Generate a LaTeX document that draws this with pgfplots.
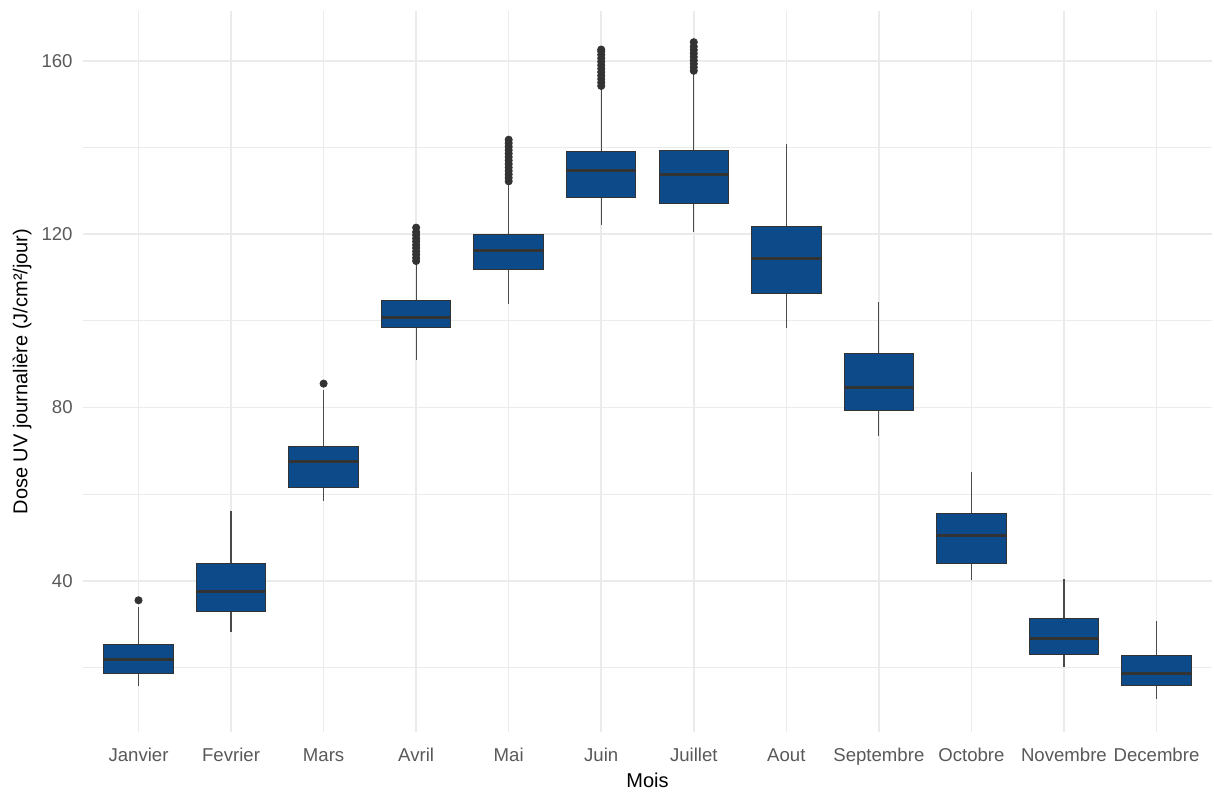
\documentclass[border=0pt]{standalone}
\usepackage{fontspec}
\setmainfont{Liberation Sans}
\usepackage{pgfplots}
\usepgfplotslibrary{statistics}
\pgfplotsset{compat=1.18}
\definecolor{boxfill}{HTML}{0D4A8A}
\definecolor{dk}{HTML}{333333}
\definecolor{wk}{HTML}{4A4A4A}
\definecolor{gridc}{HTML}{EBEBEB}
\pgfplotsset{
  mybox/.style={
    boxplot/draw direction=y,
    boxplot/box extend=0.75,
    boxplot/whisker extend=0,
    boxplot/every box/.style={fill=boxfill, draw=dk, line width=0.5pt},
    boxplot/every median/.style={draw=dk, line width=1.5pt},
    boxplot/every whisker/.style={draw=wk, line width=0.6pt},
    mark=*, mark size=1.8pt, mark options={fill=dk, draw=dk},
    draw=dk, solid
  }
}
\begin{document}
\begin{tikzpicture}[x=1pt,y=1pt]
\useasboundingbox (0,0) rectangle (607,396.5);
\begin{axis}[
  at={(41.5pt,30.5pt)}, anchor=south west,
  scale only axis, width=564.5pt, height=360.5pt,
  xmin=0.4, xmax=12.6, ymin=5.1, ymax=171.5,
  boxplot/draw direction=y,
  xtick={1,...,12},
  xticklabels={Janvier,Fevrier,Mars,Avril,Mai,Juin,Juillet,Aout,Septembre,Octobre,Novembre,Decembre},
  ytick={40,80,120,160},
  minor ytick={20,60,100,140},
  grid=both,
  major grid style={gridc, line width=0.75pt},
  minor grid style={gridc, line width=0.5pt},
  axis line style={draw=none},
  major tick length=0pt, minor tick length=0pt,
  /pgf/number format/assume math mode=true,
  ticklabel style={font=\fontsize{9.3}{11}\selectfont, text=black!65, inner sep=0pt},
  xticklabel style={anchor=base, yshift=-14.5pt},
  yticklabel style={anchor=east, xshift=-5pt},
  xlabel={Mois},
  ylabel={Dose UV journalière (J/cm²/jour)},
  label style={font=\fontsize{10.5}{12}\selectfont, text=black},
  every axis x label/.style={at={(axis description cs:0.5,0)}, anchor=center, yshift=-24pt},
  every axis y label/.style={at={(axis description cs:0,0.5)}, anchor=center, rotate=90, yshift=30.5pt},
]
\addplot[mybox, boxplot prepared={draw position=1, lower whisker=15.8, lower quartile=18.7, median=21.9, upper quartile=25.4, upper whisker=34}] coordinates {(0,35.5)};
\addplot[mybox, boxplot prepared={draw position=2, lower whisker=28.2, lower quartile=33.0, median=37.5, upper quartile=43.9, upper whisker=56.0}] coordinates {};
\addplot[mybox, boxplot prepared={draw position=3, lower whisker=58.5, lower quartile=61.5, median=67.5, upper quartile=70.9, upper whisker=84}] coordinates {(0,85.5)};
\addplot[mybox, boxplot prepared={draw position=4, lower whisker=91, lower quartile=98.4, median=100.7, upper quartile=104.6, upper whisker=113}] coordinates {(0,113.8) (0,114.5) (0,115.3) (0,116) (0,116.8) (0,117.5) (0,118.3) (0,119) (0,119.8) (0,120.5) (0,121.5)};
\addplot[mybox, boxplot prepared={draw position=5, lower whisker=103.9, lower quartile=111.9, median=116.2, upper quartile=120.0, upper whisker=131.5}] coordinates {(0,132.2) (0,133) (0,133.8) (0,134.6) (0,135.4) (0,136.2) (0,137) (0,137.8) (0,138.6) (0,139.4) (0,140.2) (0,141) (0,141.8)};
\addplot[mybox, boxplot prepared={draw position=6, lower whisker=122.2, lower quartile=128.4, median=134.8, upper quartile=139.0, upper whisker=153.5}] coordinates {(0,154.2) (0,155) (0,155.8) (0,156.6) (0,157.4) (0,158.2) (0,159) (0,159.8) (0,160.6) (0,161.4) (0,162.2) (0,162.6)};
\addplot[mybox, boxplot prepared={draw position=7, lower whisker=120.4, lower quartile=127.0, median=133.7, upper quartile=139.3, upper whisker=157}] coordinates {(0,157.7) (0,158.5) (0,159.3) (0,160.1) (0,160.9) (0,161.7) (0,162.5) (0,163.3) (0,164.3)};
\addplot[mybox, boxplot prepared={draw position=8, lower whisker=98.3, lower quartile=106.4, median=114.4, upper quartile=121.8, upper whisker=140.8}] coordinates {};
\addplot[mybox, boxplot prepared={draw position=9, lower whisker=73.5, lower quartile=79.3, median=84.7, upper quartile=92.4, upper whisker=104.3}] coordinates {};
\addplot[mybox, boxplot prepared={draw position=10, lower whisker=40.2, lower quartile=43.9, median=50.4, upper quartile=55.6, upper whisker=65.2}] coordinates {};
\addplot[mybox, boxplot prepared={draw position=11, lower whisker=20.2, lower quartile=23.1, median=26.6, upper quartile=31.2, upper whisker=40.4}] coordinates {};
\addplot[mybox, boxplot prepared={draw position=12, lower whisker=12.8, lower quartile=15.8, median=18.5, upper quartile=22.7, upper whisker=30.8}] coordinates {};
\end{axis}
\end{tikzpicture}
\end{document}
